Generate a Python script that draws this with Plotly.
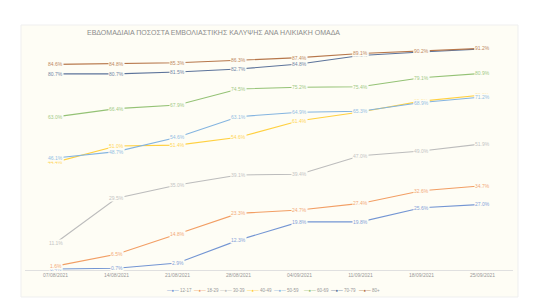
import plotly.graph_objects as go

# ---------------- data ----------------
dates = ["07/08/2021", "14/08/2021", "21/08/2021", "28/08/2021",
         "04/09/2021", "11/09/2021", "18/09/2021", "25/09/2021"]
group_names = ["12-17", "18-29", "30-39", "40-49", "50-59", "60-69", "70-79", "80+"]

g12_17 = [0.4, 0.7, 2.9, 12.3, 19.8, 19.8, 25.6, 27.0]
g18_29 = [1.6, 6.5, 14.8, 23.3, 24.7, 27.4, 32.6, 34.7]
g30_39 = [11.1, 29.5, 35.0, 39.1, 39.4, 47.0, 49.0, 51.9]
g40_49 = [44.4, 51.0, 51.4, 54.6, 61.4, 65.0, 69.5, 72.0]
g50_59 = [46.1, 48.7, 54.6, 63.1, 64.9, 65.3, 68.9, 71.2]
g60_69 = [63.0, 66.4, 67.9, 74.5, 75.2, 75.4, 79.1, 80.9]
g70_79 = [80.7, 80.7, 81.5, 82.7, 84.8, 88.3, 89.7, 91.0]
g80 = [84.6, 84.8, 85.3, 86.3, 87.4, 89.1, 90.2, 91.2]

series = [g12_17, g18_29, g30_39, g40_49, g50_59, g60_69, g70_79, g80]
colors = ["#4472C4", "#ED7D31", "#A5A5A5", "#FFC000",
          "#5B9BD5", "#70AD47", "#264478", "#9E480E"]

title = "ΕΒΔΟΜΑΔΙΑΙΑ ΠΟΣΟΣΤΑ ΕΜΒΟΛΙΑΣΤΙΚΗΣ ΚΑΛΥΨΗΣ ΑΝΑ ΗΛΙΚΙΑΚΗ ΟΜΑΔΑ"

# ---------------- layout helpers ----------------
W, H = 541, 300
ML, MR, MT, MB = 25, 28, 27, 30
PW, PH = W - ML - MR, H - MT - MB
BG = "#FEFDF5"
FONT = "Liberation Sans"


def px_x(x):
    return (x - ML) / PW


def px_y(y):
    return (H - MB - y) / PH


def fade(hexcol, f):
    r, g, b = (int(hexcol[i:i + 2], 16) for i in (1, 3, 5))
    r, g, b = (round(c + (255 - c) * f) for c in (r, g, b))
    return f"#{r:02X}{g:02X}{b:02X}"


fig = go.Figure()
annotations = []

for name, vals, col in zip(group_names, series, colors):
    fig.add_trace(go.Scatter(
        x=dates, y=vals, mode="lines", name=name,
        line=dict(color=fade(col, 0.25), width=1.1), showlegend=False,
        hoverinfo="skip"))
    for d, v in zip(dates, vals):
        annotations.append(dict(
            x=d, y=v, xref="x", yref="y", text=f"{v:.1f}%",
            showarrow=False, font=dict(size=5, color=fade(col, 0.35), family=FONT),
            bgcolor=BG, borderpad=0))

# title
annotations.append(dict(
    x=px_x(85), y=px_y(32), xref="paper", yref="paper", xanchor="left",
    yanchor="middle", text=title, showarrow=False,
    font=dict(size=7, color="#8C8C8C", family=FONT)))

# custom compact legend
legend_x = [165, 192, 218, 245, 272, 302, 329, 357]
for lx, name, col in zip(legend_x, group_names, colors):
    annotations.append(dict(
        x=px_x(lx), y=px_y(290), xref="paper", yref="paper",
        xanchor="left", yanchor="middle", showarrow=False,
        text=f'<span style="color:{fade(col, 0.25)}">—●—</span><span style="color:#999999"> {name}</span>',
        font=dict(size=4.5, family=FONT)))

fig.update_layout(
    width=W, height=H,
    margin=dict(l=ML, r=MR, t=MT, b=MB),
    paper_bgcolor="white", plot_bgcolor="rgba(0,0,0,0)",
    showlegend=False,
    annotations=annotations,
    shapes=[dict(type="rect", xref="paper", yref="paper",
                 x0=px_x(21), x1=px_x(518), y0=px_y(297), y1=px_y(25),
                 fillcolor=BG, line=dict(color="#EFEFEF", width=1),
                 layer="below")],
    xaxis=dict(type="category", range=[-0.5, 7.5], showline=True,
               linecolor="#E0E0E0", linewidth=1, showgrid=False,
               zeroline=False, ticks="",
               tickfont=dict(size=5, color="#999999", family=FONT)),
    yaxis=dict(range=[0, 100], visible=False, showgrid=False),
)

fig.write_html("out.html")
